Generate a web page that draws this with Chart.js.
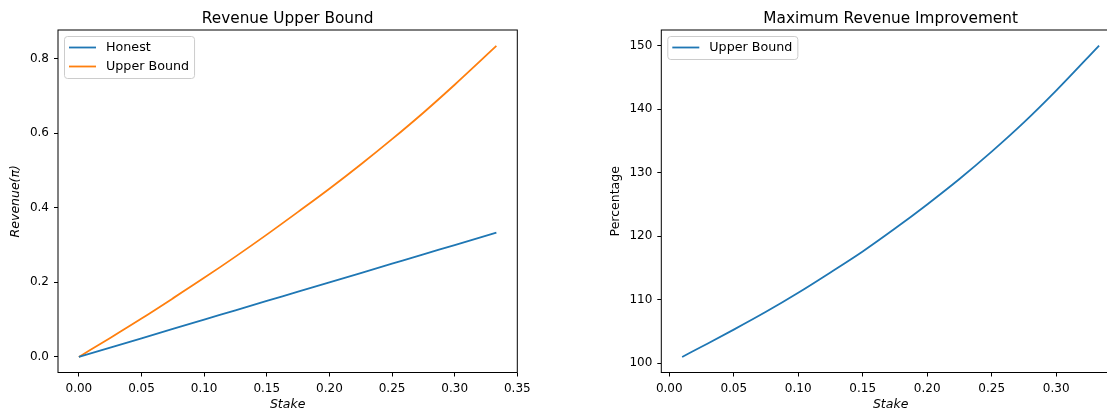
<!DOCTYPE html>
<html>
<head>
<meta charset="utf-8">
<script src="https://cdn.jsdelivr.net/npm/chart.js@4/dist/chart.umd.min.js"></script>
<style>
    html, body { margin: 0; padding: 0; background: #fff; overflow: hidden; }
    #wrap { position: relative; width: 1107px; height: 410px; overflow: hidden; }
    .panel { position: absolute; top: 0; height: 410px; }
</style>
</head>
<body>
<div id="wrap">
    <div class="panel" style="left:0;width:540px"><canvas id="leftChart" width="540" height="410"></canvas></div>
    <div class="panel" style="left:600px;width:525px"><canvas id="rightChart" width="525" height="410"></canvas></div>
</div>
<script>
// Left panel: revenue vs stake
const leftStake = [0, 0.025, 0.05, 0.075, 0.1, 0.125, 0.15, 0.175, 0.2, 0.225, 0.25, 0.275, 0.3, 0.3333];
const honestRevenue = [0, 0.025, 0.05, 0.075, 0.1, 0.125, 0.15, 0.175, 0.2, 0.225, 0.25, 0.275, 0.3, 0.3333];
const upperRevenue = [0, 0.051, 0.103, 0.157, 0.212, 0.269, 0.328, 0.389, 0.451, 0.516, 0.584, 0.655, 0.730, 0.834];

// Right panel: improvement percentage vs stake
const rightStake = [0.01, 0.025, 0.05, 0.075, 0.1, 0.125, 0.15, 0.175, 0.2, 0.225, 0.25, 0.275, 0.3, 0.3333];
const improvement = [101.0, 102.6, 105.3, 108.1, 111.1, 114.3, 117.6, 121.2, 125.0, 129.0, 133.3, 137.9, 142.9, 150.0];

// Tick values
const leftXTicks = [0, 0.05, 0.1, 0.15, 0.2, 0.25, 0.3, 0.35];
const leftYTicks = [0, 0.2, 0.4, 0.6, 0.8];
const rightXTicks = [0, 0.05, 0.1, 0.15, 0.2, 0.25, 0.3];
const rightYTicks = [100, 110, 120, 130, 140, 150];

const BLUE = "#1f77b4";
const ORANGE = "#ff7f0e";
const FONT = "DejaVu Sans";

Chart.defaults.font.family = FONT;
Chart.defaults.color = "#000";

// Draws the axes frame, the title above the plot and a matplotlib-like legend inside it
const mplDecor = {
    id: "mplDecor",
    afterDatasetsDraw(chart, args, opts) {
        const ctx = chart.ctx;
        const a = chart.chartArea;
        ctx.save();

        // legend
        const sets = chart.data.datasets;
        ctx.font = "12.7px '" + FONT + "'";
        let textW = 0;
        sets.forEach(function (ds) {
            textW = Math.max(textW, ctx.measureText(ds.label).width);
        });
        const bx = a.left + 6.5;
        const by = a.top + 6.5;
        const bw = 4.5 + 27 + 10 + textW + 5.5;
        const bh = 4 + sets.length * 19;
        ctx.beginPath();
        ctx.roundRect(bx, by, bw, bh, 3);
        ctx.fillStyle = "rgba(255,255,255,0.8)";
        ctx.fill();
        ctx.strokeStyle = "#cccccc";
        ctx.lineWidth = 1;
        ctx.stroke();
        sets.forEach(function (ds, i) {
            const ly = by + 11 + i * 19;
            ctx.beginPath();
            ctx.moveTo(bx + 4.5, ly);
            ctx.lineTo(bx + 31.5, ly);
            ctx.strokeStyle = ds.borderColor;
            ctx.lineWidth = 1.8;
            ctx.stroke();
            ctx.fillStyle = "#000";
            ctx.textBaseline = "middle";
            ctx.textAlign = "left";
            ctx.fillText(ds.label, bx + 41.5, ly);
        });

        // frame
        ctx.strokeStyle = "#000";
        ctx.lineWidth = 1;
        ctx.strokeRect(a.left, a.top, a.right - a.left, a.bottom - a.top);

        // title
        ctx.font = "15.3px '" + FONT + "'";
        ctx.fillStyle = "#000";
        ctx.textAlign = "center";
        ctx.textBaseline = "alphabetic";
        ctx.fillText(opts.text, (a.left + a.right) / 2, 22.7);
        ctx.restore();
    }
};

function makeScale(min, max, ticks, digits, title, italic, fitSize, horizontal) {
    return {
        type: "linear",
        min: min,
        max: max,
        border: { display: false },
        grid: { display: true, drawOnChartArea: false, drawTicks: true, tickLength: 4, color: "#000", lineWidth: 1 },
        ticks: {
            padding: 5,
            font: { size: 12 },
            color: "#000",
            callback: function (value) { return value.toFixed(digits); }
        },
        afterBuildTicks: function (scale) {
            scale.ticks = ticks.map(function (v) { return { value: v }; });
        },
        afterFit: function (scale) {
            if (horizontal) {
                scale.height = fitSize;
            } else {
                scale.width = fitSize;
            }
        },
        title: {
            display: true,
            text: title,
            font: { size: 12.5, style: italic ? "italic" : "normal" },
            color: "#000",
            padding: horizontal ? { top: 0, bottom: -2 } : { top: 8.3, bottom: 0 }
        }
    };
}

function points(xs, ys) {
    return xs.map(function (x, i) { return { x: x, y: ys[i] }; });
}

function lineSet(label, xs, ys, color) {
    return {
        label: label,
        data: points(xs, ys),
        borderColor: color,
        backgroundColor: color,
        borderWidth: 1.8,
        pointRadius: 0,
        cubicInterpolationMode: "monotone",
        fill: false
    };
}

new Chart(document.getElementById("leftChart").getContext("2d"), {
    type: "line",
    data: {
        datasets: [
            lineSet("Honest", leftStake, honestRevenue, BLUE),
            lineSet("Upper Bound", leftStake, upperRevenue, ORANGE)
        ]
    },
    options: {
        responsive: false,
        animation: false,
        layout: { padding: { left: 0, top: 30, right: 22.7, bottom: 0 } },
        plugins: {
            legend: { display: false },
            tooltip: { enabled: false },
            mplDecor: { text: "Revenue Upper Bound" }
        },
        scales: {
            x: makeScale(-0.01667, 0.35, leftXTicks, 2, "Stake", true, 37.5, true),
            y: makeScale(-0.0418, 0.8768, leftYTicks, 1, "Revenue(\u03c0)", true, 58, false)
        }
    },
    plugins: [mplDecor]
});

new Chart(document.getElementById("rightChart").getContext("2d"), {
    type: "line",
    data: {
        datasets: [
            lineSet("Upper Bound", rightStake, improvement, BLUE)
        ]
    },
    options: {
        responsive: false,
        animation: false,
        layout: { padding: { left: 0, top: 30, right: 5, bottom: 0 } },
        plugins: {
            legend: { display: false },
            tooltip: { enabled: false },
            mplDecor: { text: "Maximum Revenue Improvement" }
        },
        scales: {
            x: makeScale(-0.00617, 0.3495, rightXTicks, 2, "Stake", true, 37.5, true),
            y: makeScale(98.55, 152.45, rightYTicks, 0, "Percentage", false, 61.3, false)
        }
    },
    plugins: [mplDecor]
});
</script>
</body>
</html>
